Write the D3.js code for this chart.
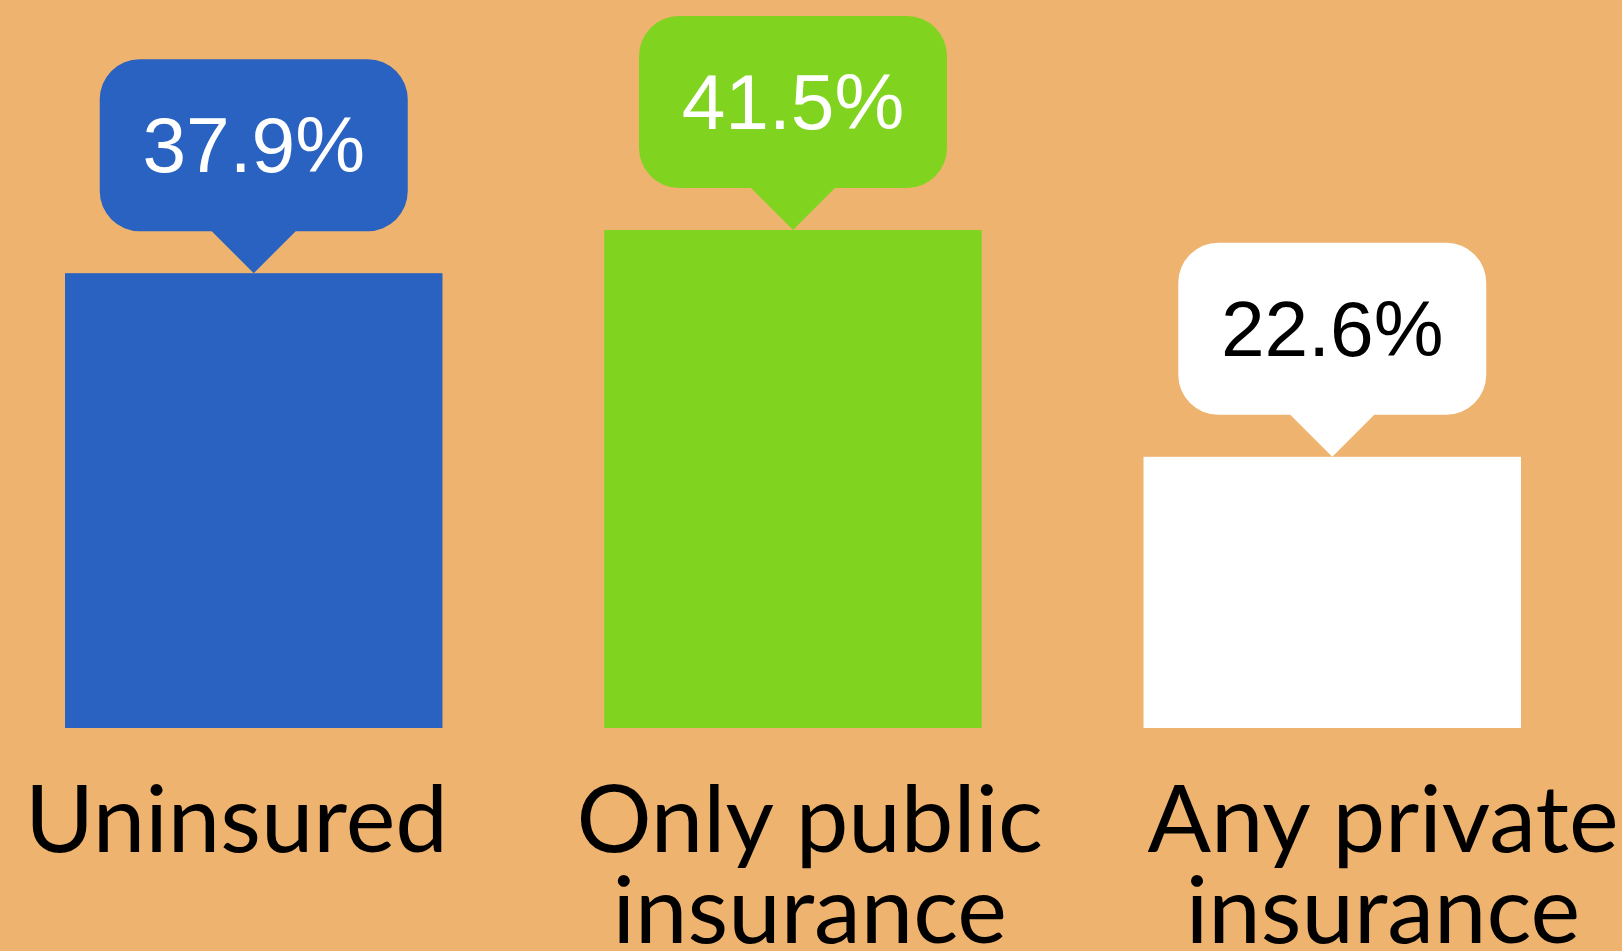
<!DOCTYPE html>
<html>
<head>
<meta charset="utf-8">
<script src="https://cdnjs.cloudflare.com/ajax/libs/d3/7.8.5/d3.min.js"></script>
<style>
  html, body { margin: 0; padding: 0; background: #eeb36f; overflow: hidden; }
</style>
</head>
<body>
<div id="chart"></div>
<script>
// data
const categories = ["Uninsured", "Only public insurance", "Any private insurance"];
const values = [37.9, 41.5, 22.6];
const labelLines = [["Uninsured"], ["Only public", "insurance"], ["Any private", "insurance"]];
const barColors = ["#2962c0", "#80d41f", "#ffffff"];
const textColors = ["#ffffff", "#ffffff", "#000000"];

const width = 1622, height = 951;
const baseY = 728;

const svg = d3.select("#chart")
  .append("svg")
  .attr("width", width)
  .attr("height", height);

svg.append("rect")
  .attr("width", width)
  .attr("height", height)
  .attr("fill", "#eeb36f");

const x = d3.scaleBand()
  .domain(categories)
  .range([65, 1521])
  .paddingInner(0.3)
  .paddingOuter(0);

// 12px per percentage point
const y = d3.scaleLinear()
  .domain([0, 50])
  .range([baseY, baseY - 600]);

// labels sit on their own slightly wider spacing
const xLabel = d3.scalePoint()
  .domain(categories)
  .range([236.5, 1383]);

const rows = categories.map((c, i) => ({ cat: c, value: values[i], color: barColors[i], text: textColors[i], lines: labelLines[i] }));

// bars
svg.selectAll("rect.bar")
  .data(rows)
  .enter()
  .append("rect")
  .attr("class", "bar")
  .attr("x", d => x(d.cat))
  .attr("y", d => y(d.value))
  .attr("width", x.bandwidth())
  .attr("height", d => y(0) - y(d.value))
  .attr("fill", d => d.color);

// speech bubbles above the bars
const bw = 308, bh = 172, r = 40, tipH = 42, tipW = 42;

function bubblePath(cx, tipY) {
  const b = tipY - tipH;      // bubble bottom
  const t = b - bh;           // bubble top
  const l = cx - bw / 2, rt = cx + bw / 2;
  const p = d3.path();
  p.moveTo(l + r, t);
  p.lineTo(rt - r, t);
  p.arcTo(rt, t, rt, t + r, r);
  p.lineTo(rt, b - r);
  p.arcTo(rt, b, rt - r, b, r);
  p.lineTo(cx + tipW, b);
  p.lineTo(cx, tipY);
  p.lineTo(cx - tipW, b);
  p.lineTo(l + r, b);
  p.arcTo(l, b, l, b - r, r);
  p.lineTo(l, t + r);
  p.arcTo(l, t, l + r, t, r);
  p.closePath();
  return p.toString();
}

const bubbles = svg.selectAll("g.bubble")
  .data(rows)
  .enter()
  .append("g")
  .attr("class", "bubble");

bubbles.append("path")
  .attr("d", d => bubblePath(x(d.cat) + x.bandwidth() / 2, y(d.value)))
  .attr("fill", d => d.color);

bubbles.append("text")
  .attr("x", d => x(d.cat) + x.bandwidth() / 2)
  .attr("y", d => y(d.value) - tipH - 59)
  .attr("text-anchor", "middle")
  .attr("font-family", "'Liberation Sans', Arial, sans-serif")
  .attr("font-size", 78.5)
  .attr("fill", d => d.text)
  .text(d => d.value.toFixed(1) + "%");

// category labels
const labels = svg.selectAll("text.label")
  .data(rows)
  .enter()
  .append("text")
  .attr("class", "label")
  .attr("text-anchor", "middle")
  .attr("font-family", "Lato, sans-serif")
  .attr("font-size", 94)
  .attr("fill", "#000");

labels.selectAll("tspan")
  .data(d => d.lines.map(l => ({ line: l, cat: d.cat })))
  .enter()
  .append("tspan")
  .attr("x", d => xLabel(d.cat))
  .attr("y", (d, i) => 852 + i * 91)
  .text(d => d.line);
</script>
</body>
</html>
